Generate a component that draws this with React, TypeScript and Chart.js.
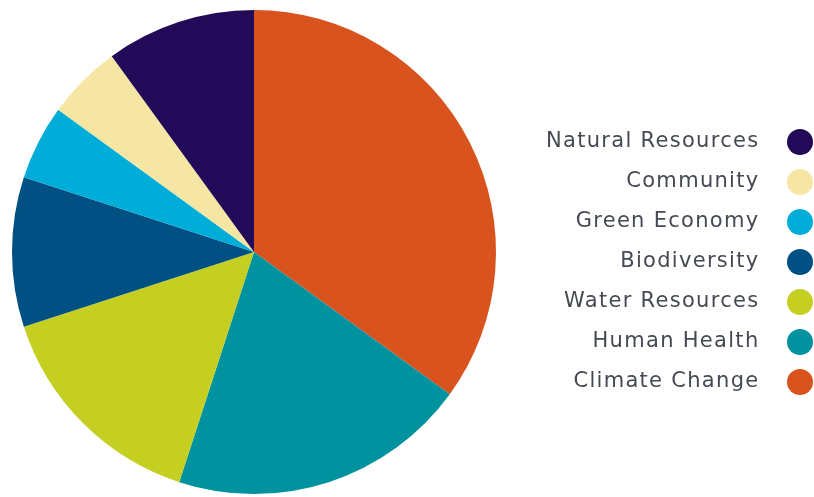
import React, { useEffect, useRef } from "react";
import { Chart, registerables } from "chart.js";

Chart.register(...registerables);

const categories = [
  "Climate Change",
  "Human Health",
  "Water Resources",
  "Biodiversity",
  "Green Economy",
  "Community",
  "Natural Resources",
];
const shares = [35, 20, 15, 10, 5, 5, 10];
const colors = ["#D9531E", "#00929F", "#C4CF22", "#005083", "#00ADD8", "#F5E6A4", "#230A59"];

const rightLegend = {
  id: "rightLegend",
  afterDraw(chart: any) {
    const ctx = chart.ctx;
    const labels: string[] = chart.data.labels;
    const bg: string[] = chart.data.datasets[0].backgroundColor;
    const order = labels.map((_, i) => i).reverse();
    ctx.save();
    ctx.font = '21px "DejaVu Sans", sans-serif';
    (ctx as any).letterSpacing = "1.3px";
    ctx.textAlign = "right";
    ctx.textBaseline = "middle";
    order.forEach((idx, row) => {
      const y = 142 + row * 40;
      ctx.fillStyle = "#454a52";
      ctx.fillText(labels[idx], 759.5, y);
      ctx.beginPath();
      ctx.fillStyle = bg[idx];
      ctx.arc(800, y, 13, 0, Math.PI * 2);
      ctx.fill();
    });
    ctx.restore();
  },
};

export default function App() {
  const ref = useRef<HTMLCanvasElement>(null);
  useEffect(() => {
    if (!ref.current) return;
    const chart = new Chart(ref.current, {
      type: "pie",
      data: {
        labels: categories,
        datasets: [
          {
            data: shares,
            backgroundColor: colors,
            borderWidth: 0,
          },
        ],
      },
      options: {
        responsive: false,
        animation: false,
        devicePixelRatio: 1,
        layout: { padding: { left: 12, top: 10, right: 318, bottom: 3 } },
        plugins: {
          legend: { display: false },
          tooltip: { enabled: false },
        },
      },
      plugins: [rightLegend],
    });
    return () => chart.destroy();
  }, []);
  return (
    <div style={{ position: "absolute", left: 0, top: 0, width: 814, height: 497, background: "#fff" }}>
      <canvas ref={ref} width={814} height={497} style={{ width: 814, height: 497, display: "block" }} />
    </div>
  );
}
